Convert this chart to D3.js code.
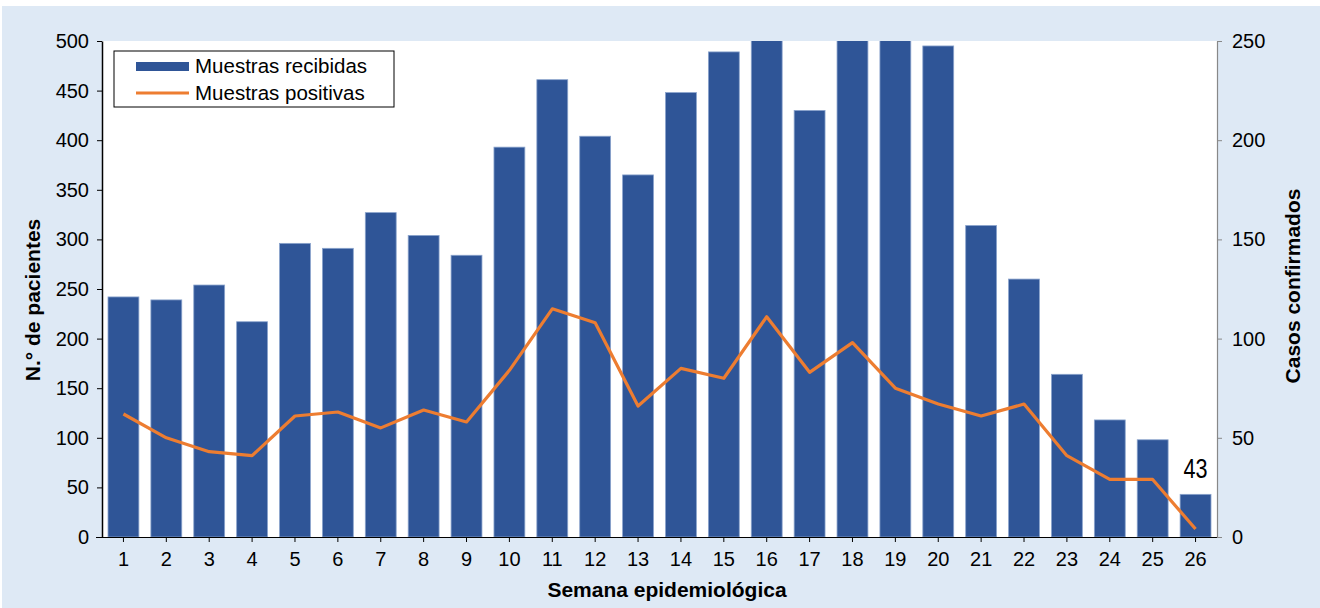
<!DOCTYPE html>
<html lang="es">
<head>
<meta charset="utf-8">
<title>Muestras por semana epidemiológica</title>
<script src="https://cdn.jsdelivr.net/npm/d3@7"></script>
<style>
  body { margin: 0; background: #fff; }
  svg { display: block; font-family: Arial, "Liberation Sans", sans-serif; }
  .tick text { font-size: 20px; fill: #000; }
</style>
</head>
<body>
<div id="chart"></div>
<script>
// semanas epidemiológicas
const weeks = d3.range(1, 27);
// muestras recibidas (eje izquierdo)
const received = [242, 239, 254, 217, 296, 291, 327, 304, 284, 393, 461, 404, 365,
                  448, 489, 515, 430, 530, 510, 495, 314, 260, 164, 118, 98, 43];
// muestras positivas (eje derecho)
const positive = [62, 50, 43, 41, 61, 63, 55, 64, 58, 84, 115, 108, 66,
                  85, 80, 111, 83, 98, 75, 67, 61, 67, 41, 29, 29, 4];
const leftTicks = d3.range(0, 501, 50);
const rightTicks = d3.range(0, 251, 50);

const w = 1320, h = 608;
const plot = { left: 102, right: 1217, top: 41, bottom: 537 };

const svg = d3.select("#chart").append("svg")
  .attr("width", w).attr("height", h);

// fondo
svg.append("rect").attr("x", 2).attr("y", 6).attr("width", w - 2).attr("height", h - 6)
  .attr("fill", "#dee9f5");
svg.append("rect").attr("x", plot.left).attr("y", plot.top)
  .attr("width", plot.right - plot.left).attr("height", plot.bottom - plot.top)
  .attr("fill", "#fff");

const x = d3.scaleBand().domain(weeks).range([plot.left, plot.right]).paddingInner(0.28).paddingOuter(0.14);
const yL = d3.scaleLinear().domain([0, 500]).range([plot.bottom, plot.top]);
const yR = d3.scaleLinear().domain([0, 250]).range([plot.bottom, plot.top]);

svg.append("clipPath").attr("id", "plot-area")
  .append("rect").attr("x", plot.left).attr("y", plot.top)
  .attr("width", plot.right - plot.left).attr("height", plot.bottom - plot.top);

svg.append("g").attr("clip-path", "url(#plot-area)")
  .selectAll("rect")
  .data(weeks)
  .enter()
  .append("rect")
    .attr("x", d => x(d))
    .attr("y", (d, i) => yL(received[i]))
    .attr("width", x.bandwidth())
    .attr("height", (d, i) => plot.bottom - yL(received[i]))
    .attr("fill", "#2f5597")
    .attr("stroke", "#8aa3cc")
    .attr("stroke-width", 0.8);

const line = d3.line()
  .x((d, i) => x(weeks[i]) + x.bandwidth() / 2)
  .y(d => yR(d));

svg.append("path")
  .datum(positive)
  .attr("d", line)
  .attr("fill", "none")
  .attr("stroke", "#ed7d31")
  .attr("stroke-width", 3.2)
  .attr("stroke-linejoin", "round");

// etiqueta de la última barra (fuente estrecha)
const lx = x(26) + x.bandwidth() / 2;
svg.append("text")
  .attr("transform", `translate(${lx},${yL(received[25]) - 16}) scale(0.8,1)`)
  .attr("text-anchor", "middle")
  .style("font-size", "27px")
  .text(received[25]);

// ejes
const xAxis = svg.append("g")
  .attr("transform", `translate(0,${plot.bottom})`)
  .call(d3.axisBottom(x).tickSize(5).tickSizeOuter(0));
xAxis.select(".domain").attr("d", `M${plot.left - 6},0.5H${plot.right + 4}`).attr("stroke", "#000");
xAxis.selectAll(".tick text").attr("dy", "1.05em");

const leftAxis = svg.append("g")
  .attr("transform", `translate(${plot.left},0)`)
  .call(d3.axisLeft(yL).tickValues(leftTicks).tickSize(5).tickSizeOuter(0).tickPadding(8));
leftAxis.select(".domain").attr("stroke", "#000").attr("stroke-width", 1.5);

const rightAxis = svg.append("g")
  .attr("transform", `translate(${plot.right},0)`)
  .call(d3.axisRight(yR).tickValues(rightTicks).tickSize(5).tickSizeOuter(0).tickPadding(10));
rightAxis.select(".domain").attr("stroke", "#888").attr("stroke-width", 1.2);
rightAxis.selectAll(".tick line").attr("stroke", "#888");

// títulos
svg.append("text")
  .attr("transform", "translate(40,300) rotate(-90)")
  .attr("text-anchor", "middle")
  .style("font-size", "21px").style("font-weight", "bold")
  .text("N.° de pacientes");

svg.append("text")
  .attr("transform", "translate(1300,286) rotate(-90)")
  .attr("text-anchor", "middle")
  .style("font-size", "21px").style("font-weight", "bold")
  .text("Casos confirmados");

svg.append("text")
  .attr("x", 667)
  .attr("y", 597)
  .attr("text-anchor", "middle")
  .style("font-size", "21px").style("font-weight", "bold")
  .text("Semana epidemiológica");

// leyenda
const legend = svg.append("g").attr("transform", "translate(114,51)");
legend.append("rect").attr("width", 280).attr("height", 56)
  .attr("fill", "#fff").attr("stroke", "#000").attr("stroke-width", 1);
legend.append("rect").attr("x", 22).attr("y", 11).attr("width", 53).attr("height", 9)
  .attr("fill", "#2f5597");
legend.append("line").attr("x1", 22).attr("x2", 75).attr("y1", 42).attr("y2", 42)
  .attr("stroke", "#ed7d31").attr("stroke-width", 3);
legend.append("text").attr("x", 81).attr("y", 22).style("font-size", "20.5px").text("Muestras recibidas");
legend.append("text").attr("x", 81).attr("y", 49).style("font-size", "20.5px").text("Muestras positivas");
</script>
</body>
</html>
